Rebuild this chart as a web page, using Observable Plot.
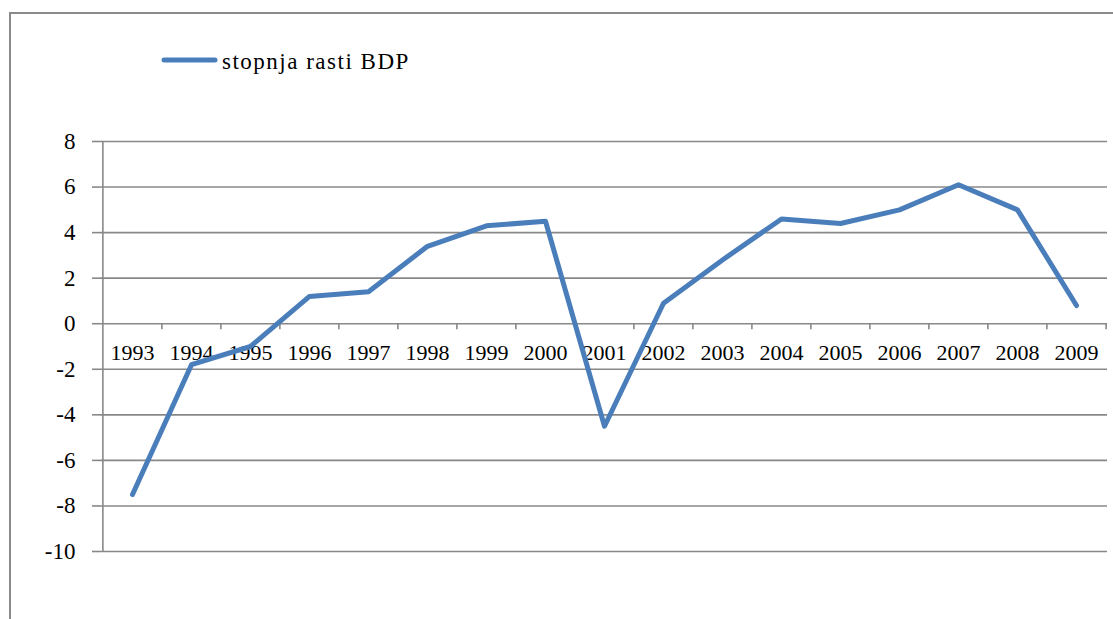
<!DOCTYPE html>
<html>
<head>
<meta charset="utf-8">
<script src="https://cdn.jsdelivr.net/npm/d3@7"></script>
<script src="https://cdn.jsdelivr.net/npm/@observablehq/plot@0.6"></script>
<style>
  body { margin: 0; background: #fff; }
  #wrap { position: relative; width: 1113px; height: 619px; overflow: hidden; background: #fff; }
  #border { position: absolute; left: 9px; top: 12px; width: 1300px; height: 800px;
            border-left: 2px solid #8a8a8a; border-top: 2px solid #8a8a8a; }
  #legend { position: absolute; left: 0; top: 0; }
  #chart { position: absolute; left: 0; top: 0; }
</style>
</head>
<body>
<div id="wrap">
  <div id="border"></div>
  <div id="chart"></div>
  <svg id="legend" width="1113" height="100">
    <line x1="164" y1="60" x2="215" y2="60" stroke="#4A7EBB" stroke-width="5" stroke-linecap="round"></line>
    <text x="222" y="69" font-family="'Liberation Serif', 'Times New Roman', serif" font-size="23" letter-spacing="1.5" fill="#000">stopnja rasti BDP</text>
  </svg>
</div>
<script>
const years = ["1993","1994","1995","1996","1997","1998","1999","2000","2001","2002","2003","2004","2005","2006","2007","2008","2009"];
const growth = [-7.5, -1.8, -1.0, 1.2, 1.4, 3.4, 4.3, 4.5, -4.5, 0.9, 2.8, 4.6, 4.4, 5.0, 6.1, 5.0, 0.8];
const yTicks = [-10, -8, -6, -4, -2, 0, 2, 4, 6, 8];
const seriesName = "stopnja rasti BDP";

const data = years.map((year, i) => ({year, value: growth[i], series: seriesName}));

const W = 1113, H = 619, ML = 100, MR = 6, MT = 141, MB = 68;
const step = (W - ML - MR) / years.length;
const grey = "#888888";

const chart = Plot.plot({
  width: W,
  height: H,
  marginLeft: ML,
  marginRight: MR,
  marginTop: MT,
  marginBottom: MB,
  style: {background: "transparent", fontFamily: "'Liberation Serif', 'Times New Roman', serif", color: "#000"},
  x: {type: "point", domain: years, padding: 0.5, axis: null},
  y: {domain: [-10, 8], axis: null, label: null},
  marks: [
    Plot.ruleY(yTicks, {stroke: grey, strokeWidth: 1.6}),
    // vertical axis line at the left edge of the first category
    Plot.ruleX([years[0]], {x: d => d, y1: -10, y2: 8, dx: -step / 2, stroke: grey, strokeWidth: 1.6}),
    // category boundary ticks on the zero line
    Plot.ruleX(years.slice(1), {x: d => d, y1: 0, y2: -0.27, dx: -step / 2, stroke: grey, strokeWidth: 1.6}),
    Plot.ruleX([years[years.length - 1]], {x: d => d, y1: 0, y2: -0.27, dx: step / 2, stroke: grey, strokeWidth: 1.6}),
    Plot.axisY({ticks: yTicks, label: null, tickSize: 8, tickPadding: 17, fontSize: 23, stroke: grey, strokeWidth: 1.6, tickFormat: d => String(d), fill: "#000"}),
    Plot.text(years, {x: d => d, y: 0, dy: 29, text: d => d, fontSize: 22, fill: "#000"}),
    Plot.line(data, {x: "year", y: "value", stroke: "#4A7EBB", strokeWidth: 5, strokeLinejoin: "round", strokeLinecap: "round"})
  ]
});
document.getElementById("chart").appendChild(chart);
</script>
</body>
</html>
